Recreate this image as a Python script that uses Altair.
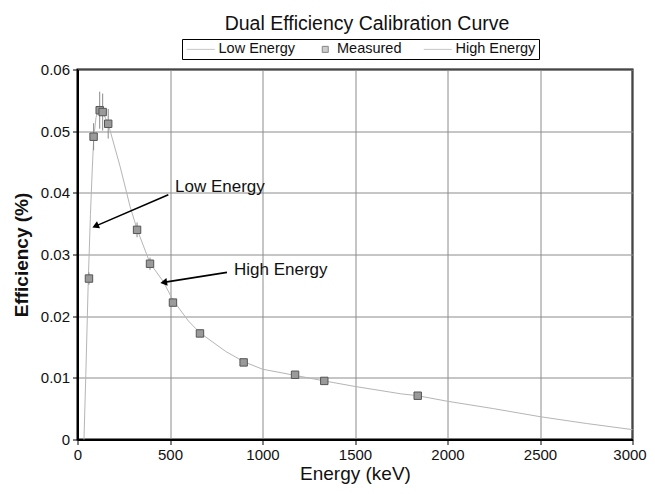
import altair as alt
import pandas as pd

# ---- data ----
# low-energy fitted curve (keV, efficiency)
low_energy = [35, 45, 58, 70, 80, 88, 100, 112, 125]
low_eff = [0.0, 0.0105, 0.0255, 0.0365, 0.0440, 0.0490, 0.0522, 0.0534, 0.0537]

# high-energy fitted curve
high_energy = [125, 166, 230, 284, 322, 392, 464, 516, 600, 662, 800, 900, 1000,
               1176, 1334, 1500, 1750, 1839, 2000, 2250, 2500, 2750, 3000]
high_eff = [0.0537, 0.0512, 0.0443, 0.0378, 0.0341, 0.0286, 0.0256, 0.0226, 0.0192,
            0.0173, 0.0143, 0.0126, 0.0114, 0.0104, 0.0095, 0.0086, 0.0074, 0.0071,
            0.0062, 0.0050, 0.0037, 0.0026, 0.0016]

# measured points with uncertainties
meas_energy = [62, 87, 120, 136, 166, 322, 392, 516, 662, 898, 1176, 1334, 1839]
meas_eff = [0.0261, 0.0491, 0.0534, 0.0531, 0.0512, 0.0340, 0.0285, 0.0222, 0.0172,
            0.0125, 0.0105, 0.0095, 0.0071]
meas_err = [0.0010, 0.0022, 0.0030, 0.0030, 0.0024, 0.0012, 0.0010, 0.0006, 0.0006,
            0.0003, 0.0003, 0.0002, 0.0002]

series_names = ["Low Energy", "Measured", "High Energy"]

# annotations
ann_text = ["Low Energy", "High Energy"]
ann_x = [527, 846]
ann_y = [0.0410, 0.0275]
arrow_x1 = [491, 808]
arrow_y1 = [0.0397, 0.0271]
arrow_x2 = [97, 466]
arrow_y2 = [0.0346, 0.02548]
arrow_angle = [336.6, 351]

FONT = "Liberation Sans"
# legend glyphs (unit-radius paths): a line sample and a small square
LINE_SYM = "M-1.556,0H6.364"
SQUARE_SYM = "M3.253,-0.849H4.950V0.849H3.253Z"

low_df = pd.DataFrame({"energy": low_energy, "eff": low_eff})
high_df = pd.DataFrame({"energy": high_energy, "eff": high_eff})
meas_df = pd.DataFrame({
    "energy": meas_energy,
    "eff": meas_eff,
    "lo": [v - e for v, e in zip(meas_eff, meas_err)],
    "hi": [v + e for v, e in zip(meas_eff, meas_err)],
    "series": ["Measured"] * len(meas_energy),
})
ann_df = pd.DataFrame({"x": ann_x, "y": ann_y, "t": ann_text})
arr_df = pd.DataFrame({"x1": arrow_x1, "y1": arrow_y1, "x2": arrow_x2,
                       "y2": arrow_y2, "ang": arrow_angle})

xs = alt.Scale(domain=[0, 3000], nice=False)
ys = alt.Scale(domain=[0, 0.06], nice=False)

x_axis = alt.Axis(values=list(range(0, 3001, 500)), format="d", title="Energy (keV)",
                  titleFontSize=19, titleFontWeight="normal", titleY=25,
                  labelFontSize=15, labelPadding=3, labelFlush=False,
                  labelOffset={"condition": {"test": "datum.value == 3000", "value": -3},
                               "value": 0})
y_axis = alt.Axis(values=[0, 0.01, 0.02, 0.03, 0.04, 0.05, 0.06], format=".2~f",
                  title="Efficiency (%)", titleFontSize=19, titleFontWeight="bold",
                  titleX=-56, titleY=185, titleAlign="center", titleBaseline="middle",
                  labelFontSize=15, labelPadding=3)

low_line = alt.Chart(low_df).mark_line(color="#b5b5b5", strokeWidth=1).encode(
    x=alt.X("energy:Q", scale=xs, axis=x_axis),
    y=alt.Y("eff:Q", scale=ys, axis=y_axis),
)
high_line = alt.Chart(high_df).mark_line(color="#b5b5b5", strokeWidth=1).encode(
    x=alt.X("energy:Q", scale=xs),
    y=alt.Y("eff:Q", scale=ys),
)
err = alt.Chart(meas_df).mark_rule(color="#8a8a8a", strokeWidth=1).encode(
    x=alt.X("energy:Q", scale=xs),
    y=alt.Y("lo:Q", scale=ys),
    y2="hi:Q",
)
pts = alt.Chart(meas_df).mark_point(filled=True, opacity=1, strokeWidth=1, size=55,
                                    shape="square", fill="#9a9a9a",
                                    stroke="#555555").encode(
    x=alt.X("energy:Q", scale=xs),
    y=alt.Y("eff:Q", scale=ys),
)

legend = alt.Legend(
    title=None, orient="none", legendX=104.5, legendY=-30.5,
    direction="horizontal", strokeColor="black", padding=3, gridAlign="all",
    labelFontSize=14.5, labelFont=FONT, labelColor="#111",
    columnPadding=3.5, symbolStrokeWidth=1, labelOffset=19, symbolSize=50,
)
# legend-only layer (no rows drawn; the legend comes from the explicit scale domains)
legend_layer = alt.Chart(meas_df).transform_filter("false").mark_point(
    filled=True, strokeWidth=1).encode(
    x=alt.X("energy:Q", scale=xs),
    y=alt.Y("eff:Q", scale=ys),
    shape=alt.Shape("series:N", scale=alt.Scale(domain=series_names,
                    range=[LINE_SYM, SQUARE_SYM, LINE_SYM]), legend=legend),
    fill=alt.Fill("series:N", scale=alt.Scale(domain=series_names,
                  range=["#b5b5b5", "#9a9a9a", "#b5b5b5"]), legend=legend),
    stroke=alt.Stroke("series:N", scale=alt.Scale(domain=series_names,
                      range=["#b0b0b0", "#555555", "#b0b0b0"]), legend=legend),
)
arrows = alt.Chart(arr_df).mark_rule(color="black", strokeWidth=1.6).encode(
    x=alt.X("x1:Q", scale=xs), y=alt.Y("y1:Q", scale=ys),
    x2="x2:Q", y2="y2:Q",
)
heads = alt.Chart(arr_df).mark_point(shape="triangle-left", filled=True, color="black",
                                     size=60, opacity=1).encode(
    x=alt.X("x2:Q", scale=xs), y=alt.Y("y2:Q", scale=ys),
    angle=alt.Angle("ang:Q", scale=None),
)
labels = alt.Chart(ann_df).mark_text(align="left", baseline="middle", fontSize=17,
                                     font=FONT, color="#111").encode(
    x=alt.X("x:Q", scale=xs), y=alt.Y("y:Q", scale=ys), text="t:N",
)

chart = alt.layer(low_line, high_line, err, pts, legend_layer, arrows, heads,
                  labels).properties(
    width=555, height=370,
    title=alt.TitleParams("Dual Efficiency Calibration Curve", fontSize=19.5,
                          fontWeight="normal", font=FONT, anchor="middle",
                          dx=12, offset=4, color="#111"),
    autosize=alt.AutoSizeParams(type="none"),
    padding={"left": 69.5, "top": 61.5, "right": 14.5, "bottom": 46.5},
).configure(
    font=FONT,
).configure_view(
    stroke="black", strokeWidth=2,
).configure_axis(
    domainColor="black", domainWidth=2, tickColor="black", tickSize=5,
    gridColor="#8c8c8c", gridWidth=1, labelColor="#111", titleColor="#111",
    labelFont=FONT, titleFont=FONT,
)

chart.save("out.html", embed_options={"renderer": "svg", "actions": False})
